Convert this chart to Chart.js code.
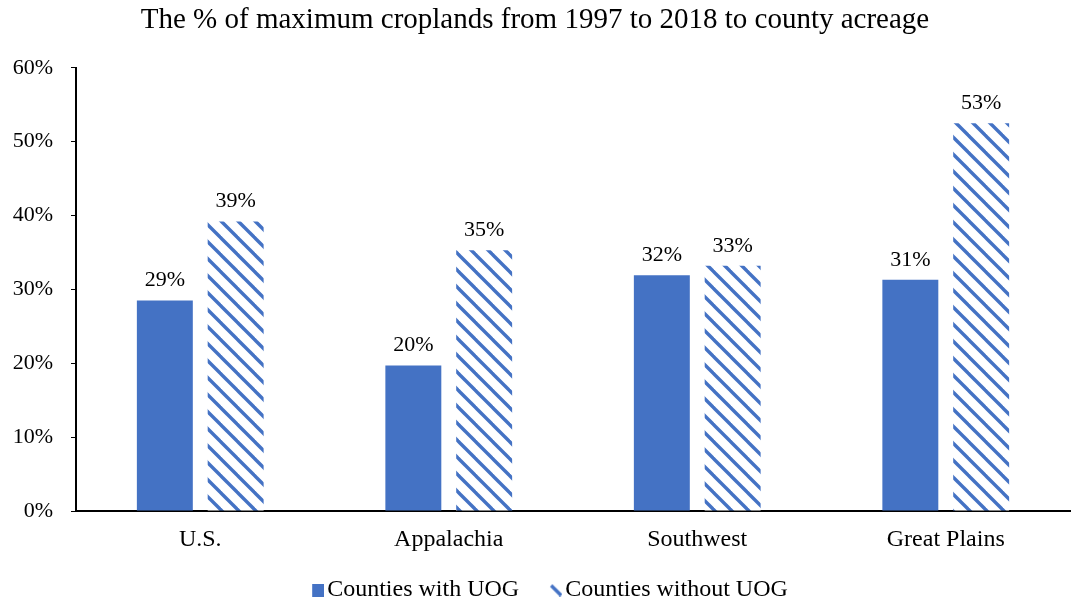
<!DOCTYPE html>
<html>
<head>
<meta charset="utf-8">
<script src="https://cdn.jsdelivr.net/npm/chart.js@4/dist/chart.umd.min.js"></script>
<style>
  html, body { margin: 0; padding: 0; background: #fff; }
  #wrap { width: 1072px; height: 606px; }
</style>
</head>
<body>
<div id="wrap"><canvas id="myChart"></canvas></div>
<script>
const regions = ['U.S.', 'Appalachia', 'Southwest', 'Great Plains'];
const withUOG = [28.5, 19.7, 31.9, 31.3];
const withoutUOG = [39.2, 35.3, 33.2, 52.5];
const yTicks = [0, 10, 20, 30, 40, 50, 60];

const blue = '#4472C4';
const serif = "'Liberation Serif', 'Times New Roman', serif";

// diagonal stripes for the "without" bars
function makeHatch() {
    const s = 17;
    const c = document.createElement('canvas');
    c.width = s; c.height = s;
    const g = c.getContext('2d');
    g.fillStyle = '#fff';
    g.fillRect(0, 0, s, s);
    g.strokeStyle = blue;
    g.lineWidth = 3.4;
    for (let k = -1; k <= 1; k++) {
        g.beginPath();
        g.moveTo(k * s - 2, -2);
        g.lineTo(k * s + s + 2, s + 2);
        g.stroke();
    }
    return g.createPattern(c, 'repeat');
}

// legend icons: blank space on the left so the mark sits close to its text
function squareIcon() {
    const c = document.createElement('canvas');
    c.width = 51; c.height = 13;
    const g = c.getContext('2d');
    g.fillStyle = blue;
    g.fillRect(39, 0, 12, 13);
    return c;
}

function stripeIcon() {
    const c = document.createElement('canvas');
    c.width = 51; c.height = 13;
    const g = c.getContext('2d');
    g.strokeStyle = blue;
    g.lineWidth = 3.4;
    g.beginPath();
    g.moveTo(40, 2);
    g.lineTo(50, 12);
    g.stroke();
    return c;
}

// draws the rounded value above each bar
const valueLabels = {
    id: 'valueLabels',
    afterDatasetsDraw(chart) {
        const ctx = chart.ctx;
        ctx.save();
        ctx.font = '22px ' + serif;
        ctx.fillStyle = '#000';
        ctx.textAlign = 'center';
        ctx.textBaseline = 'bottom';
        chart.data.datasets.forEach((ds, i) => {
            chart.getDatasetMeta(i).data.forEach((bar, j) => {
                ctx.fillText(Math.round(ds.data[j]) + '%', bar.x, bar.y - 9);
            });
        });
        ctx.restore();
    }
};

const ctx = document.getElementById('myChart').getContext('2d');
const hatch = makeHatch();

const myChart = new Chart(ctx, {
    type: 'bar',
    data: {
        labels: regions,
        datasets: [{
            label: 'Counties with UOG',
            data: withUOG,
            backgroundColor: blue,
            borderWidth: 0,
            pointStyle: squareIcon()
        },
        {
            label: 'Counties without UOG',
            data: withoutUOG,
            backgroundColor: hatch,
            borderWidth: 0,
            pointStyle: stripeIcon()
        }]
    },
    options: {
        responsive: true,
        maintainAspectRatio: false,
        animation: false,
        layout: { padding: { left: 0, right: 2, top: 0, bottom: -6 } },
        datasets: {
            bar: { categoryPercentage: 0.57, barPercentage: 0.79 }
        },
        plugins: {
            title: {
                display: true,
                text: 'The % of maximum croplands from 1997 to 2018 to county acreage',
                color: '#000',
                font: { family: serif, size: 29, weight: 'normal' },
                padding: { top: 3, bottom: 30 }
            },
            legend: {
                position: 'bottom',
                labels: {
                    usePointStyle: true,
                    pointStyleWidth: 33,
                    color: '#000',
                    font: { family: serif, size: 24 },
                    padding: 1
                }
            },
            tooltip: { enabled: false }
        },
        scales: {
            x: {
                afterFit: (scale) => { scale.height = 66; },
                grid: { display: false, drawTicks: false },
                border: { display: true, color: '#000', width: 2 },
                ticks: { color: '#000', font: { family: serif, size: 24 }, padding: 14 }
            },
            y: {
                min: 0,
                max: 60,
                afterBuildTicks: (scale) => { scale.ticks = yTicks.map(v => ({ value: v })); },
                afterFit: (scale) => { scale.width = 76; },
                grid: { drawOnChartArea: false, drawTicks: true, tickLength: 5, color: '#000', width: 1.5 },
                border: { display: true, color: '#000', width: 2 },
                ticks: {
                    color: '#000',
                    font: { family: serif, size: 22 },
                    padding: 18,
                    callback: (v) => v + '%'
                }
            }
        }
    },
    plugins: [valueLabels]
});
</script>
</body>
</html>
